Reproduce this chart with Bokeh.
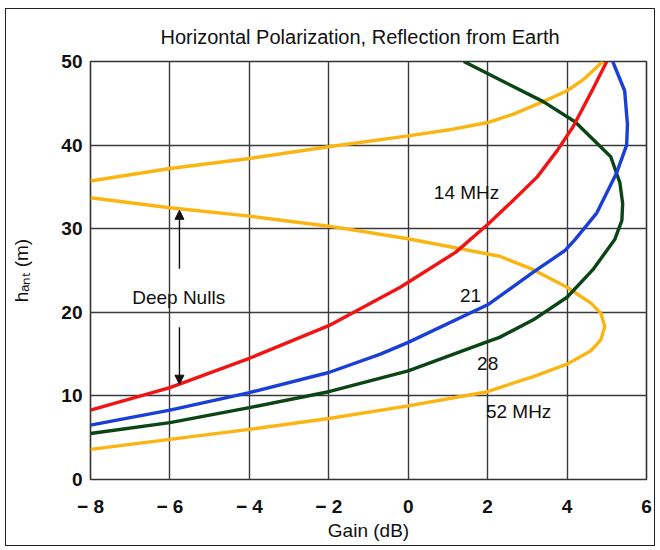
from bokeh.plotting import figure
from bokeh.models import Label, Arrow, NormalHead, FixedTicker
from bokeh.embed import file_html
from bokeh.resources import INLINE

# ---- data: gain (dB) vs antenna height (m) ----
gain_14 = [-8, -6, -4, -2, -0.2, 0, 1.2, 2, 2.6, 3.25, 3.76, 4.15, 4.65, 5.0]
height_14 = [8.3, 11.0, 14.5, 18.4, 23.0, 23.6, 27.2, 30.5, 33.2, 36.2, 39.4, 42.2, 46.7, 50]

gain_21 = [-8, -6, -4, -2, -0.7, 0, 2, 2.3, 3.15, 3.95, 4.2, 4.75, 5.25, 5.5, 5.52, 5.45, 5.15]
height_21 = [6.5, 8.3, 10.4, 12.8, 15.0, 16.4, 20.9, 21.9, 24.8, 27.4, 28.7, 31.9, 36.7, 40.0, 42.5, 46.5, 50]

gain_28 = [-8, -6, -4, -2, 0, 2, 2.3, 3.15, 4.0, 4.65, 5.2, 5.38, 5.4, 5.33, 5.1, 4.2, 3.4, 1.4]
height_28 = [5.5, 6.8, 8.6, 10.5, 13.0, 16.5, 17.0, 19.1, 21.8, 25.1, 28.7, 31.0, 33.0, 35.5, 38.6, 42.8, 45.2, 50]

gain_52_low = [-8, -6, -4, -2, 0, 2, 2.3, 3.15, 4.0, 4.6, 4.85, 4.95, 4.85, 4.6, 4.0, 3.15, 2.3, 0, -2, -4, -6, -8]
height_52_low = [3.6, 4.8, 6.0, 7.3, 8.8, 10.5, 11.0, 12.3, 13.8, 15.4, 16.7, 18.3, 19.9, 21.1, 23.0, 25.1, 26.7, 28.8, 30.3, 31.5, 32.5, 33.7]

gain_52_high = [-8, -6, -4, -2, 0, 1, 2, 2.65, 3.4, 4.0, 4.4, 4.9]
height_52_high = [35.7, 37.2, 38.4, 39.8, 41.1, 41.8, 42.7, 43.7, 45.2, 46.5, 47.8, 50]

x_ticks = [-8, -6, -4, -2, 0, 2, 4, 6]
x_tick_labels = ["\u2212 8", "\u2212 6", "\u2212 4", "\u2212 2", "0", "2", "4", "6"]
y_ticks = [0, 10, 20, 30, 40, 50]

curve_labels = ["14 MHz", "21", "28", "52 MHz", "Deep Nulls"]
curve_label_x = [1.47, 1.57, 2.0, 2.78, -5.78]
curve_label_y = [34.3, 22.0, 13.9, 8.1, 21.8]

arrow_x = -5.76
arrow_up = (25.2, 32.2)
arrow_down = (18.2, 11.4)

FONT = "Liberation Sans"
W, H = 650, 538

p = figure(width=W, height=H, x_range=(-8, 6), y_range=(0, 50),
           output_backend="svg", toolbar_location=None,
           min_border_left=84, min_border_right=10,
           min_border_top=52, min_border_bottom=68)
p.styles = {"margin-left": "5px", "margin-top": "8px", "border": "1px solid #222"}
p.background_fill_color = "white"
p.border_fill_color = "white"
p.outline_line_color = "#333333"
p.outline_line_width = 1.6

p.title.text = "Horizontal Polarization, Reflection from Earth"
p.title.align = "left"
p.title.offset = 70
p.title.standoff = 27
p.title.text_font = FONT
p.title.text_font_size = "20px"
p.title.text_font_style = "normal"
p.title.text_color = "#111111"

p.xaxis.ticker = FixedTicker(ticks=x_ticks)
p.yaxis.ticker = FixedTicker(ticks=y_ticks)
p.xaxis.major_label_overrides = {t: s for t, s in zip(x_ticks, x_tick_labels)}
for ax in (p.xaxis, p.yaxis):
    ax.axis_line_color = None
    ax.major_tick_line_color = None
    ax.minor_tick_line_color = None
    ax.major_label_text_font = FONT
    ax.major_label_text_font_size = "19px"
    ax.major_label_text_font_style = "bold"
    ax.major_label_text_color = "#111111"
    ax.axis_label_text_font = FONT
    ax.axis_label_text_font_size = "19px"
    ax.axis_label_text_font_style = "normal"
    ax.axis_label_text_color = "#111111"
p.xaxis.major_label_standoff = 10
p.yaxis.major_label_standoff = 2
p.xaxis.axis_label = "Gain (dB)"
p.xaxis.axis_label_standoff = 0
p.yaxis.axis_label = "h\u2090\u2099\u209c (m)"
p.yaxis.axis_label_standoff = 26

p.grid.grid_line_color = "#3a3a3a"
p.grid.grid_line_width = 1.4

lw = 3.4
p.line(gain_52_low, height_52_low, line_color="#fbb512", line_width=lw)
p.line(gain_52_high, height_52_high, line_color="#fbb512", line_width=lw)
p.line(gain_28, height_28, line_color="#0b4515", line_width=lw)
p.line(gain_21, height_21, line_color="#1a3fd8", line_width=lw)
p.line(gain_14, height_14, line_color="#f01414", line_width=lw)

for t, x, y in zip(curve_labels, curve_label_x, curve_label_y):
    p.add_layout(Label(x=x, y=y, text=t, text_align="center", text_baseline="middle",
                       text_font=FONT, text_font_size="19px", text_color="#111111"))

p.add_layout(Arrow(x_start=arrow_x, y_start=arrow_up[0], x_end=arrow_x, y_end=arrow_up[1],
                   line_width=1.4, line_color="#111111",
                   end=NormalHead(size=9, fill_color="#111111", line_color="#111111")))
p.add_layout(Arrow(x_start=arrow_x, y_start=arrow_down[0], x_end=arrow_x, y_end=arrow_down[1],
                   line_width=1.4, line_color="#111111",
                   end=NormalHead(size=9, fill_color="#111111", line_color="#111111")))

open("out.html", "w").write(file_html(p, INLINE))
